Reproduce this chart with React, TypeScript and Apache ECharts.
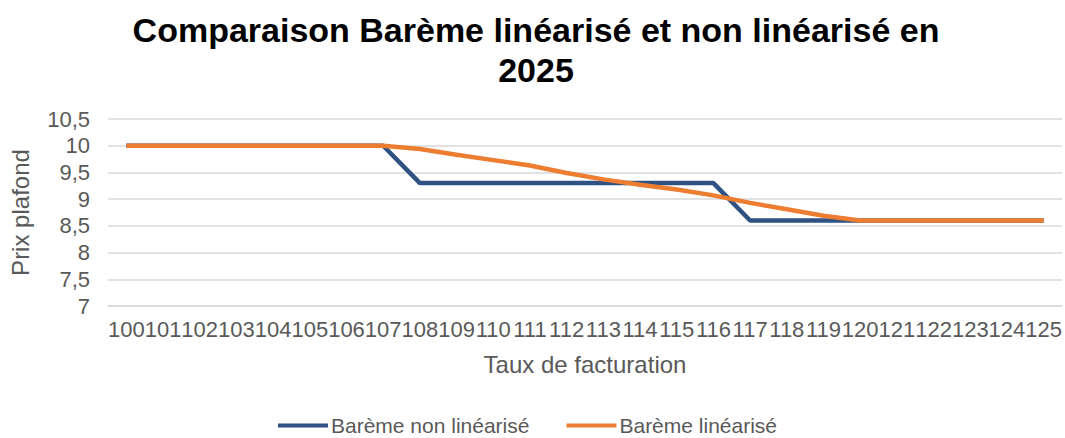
import React, { useEffect, useRef } from "react";
import * as echarts from "echarts";

const categories = [
  "100", "101", "102", "103", "104", "105", "106", "107", "108", "109", "110", "111", "112",
  "113", "114", "115", "116", "117", "118", "119", "120", "121", "122", "123", "124", "125",
];
const nonLinearise = [
  10, 10, 10, 10, 10, 10, 10, 10, 9.3, 9.3, 9.3, 9.3, 9.3,
  9.3, 9.3, 9.3, 9.3, 8.6, 8.6, 8.6, 8.6, 8.6, 8.6, 8.6, 8.6, 8.6,
];
const linearise = [
  10, 10, 10, 10, 10, 10, 10, 10, 9.94, 9.83, 9.73, 9.63, 9.49,
  9.37, 9.27, 9.18, 9.07, 8.93, 8.81, 8.69, 8.6, 8.6, 8.6, 8.6, 8.6, 8.6,
];
const seriesNames = ["Barème non linéarisé", "Barème linéarisé"];
const titleText = "Comparaison Barème linéarisé et non linéarisé en\n2025";
const xAxisName = "Taux de facturation";
const yAxisName = "Prix plafond";

const FONT = "'Liberation Sans', Arial, sans-serif";
const GRAY = "#595959";

export default function App() {
  const ref = useRef<HTMLDivElement>(null);
  useEffect(() => {
    document.body.style.margin = "0";
    if (!ref.current) return;
    const chart = echarts.init(ref.current, undefined, { renderer: "svg" });
    chart.setOption({
      animation: false,
      backgroundColor: "#ffffff",
      textStyle: { fontFamily: FONT },
      graphic: [
        {
          type: "text",
          x: 536,
          y: 10,
          style: {
            text: titleText,
            fontFamily: FONT,
            fontSize: 34,
            fontWeight: "bold",
            fill: "#000000",
            lineHeight: 40,
            textAlign: "center",
            textVerticalAlign: "top",
          },
        },
      ],
      legend: {
        bottom: 2,
        left: 278,
        padding: 0,
        itemGap: 37,
        itemWidth: 50,
        itemHeight: 4,
        icon: "rect",
        textStyle: { fontFamily: FONT, fontSize: 21, color: GRAY, padding: [0, 0, 0, -2] },
        data: seriesNames,
      },
      grid: { left: 104, right: 3, top: 119, bottom: 132 },
      xAxis: {
        type: "category",
        data: categories,
        boundaryGap: true,
        name: xAxisName,
        nameLocation: "middle",
        nameGap: 46,
        nameTextStyle: { fontFamily: FONT, fontSize: 24, color: GRAY },
        axisLine: { show: true, lineStyle: { color: "#D9D9D9", width: 1.5 } },
        axisTick: { show: false },
        axisLabel: { interval: 0, margin: 12, fontFamily: FONT, fontSize: 22, color: GRAY },
      },
      yAxis: {
        type: "value",
        min: 7,
        max: 10.5,
        interval: 0.5,
        name: yAxisName,
        nameLocation: "middle",
        nameGap: 76,
        nameTextStyle: { fontFamily: FONT, fontSize: 24, color: GRAY },
        axisLine: { show: false },
        axisTick: { show: false },
        splitLine: { lineStyle: { color: "#D9D9D9", width: 1.5 } },
        axisLabel: {
          margin: 18,
          fontFamily: FONT,
          fontSize: 22,
          color: GRAY,
          formatter: (v: number) => String(v).replace(".", ","),
        },
      },
      series: [
        {
          name: seriesNames[0],
          type: "line",
          data: nonLinearise,
          symbol: "none",
          lineStyle: { color: "#2F5283", width: 4.5 },
          itemStyle: { color: "#2F5283" },
          z: 2,
        },
        {
          name: seriesNames[1],
          type: "line",
          data: linearise,
          symbol: "none",
          lineStyle: { color: "#ED7D31", width: 4.5 },
          itemStyle: { color: "#ED7D31" },
          z: 3,
        },
      ],
    });
    return () => chart.dispose();
  }, []);
  return <div ref={ref} style={{ width: 1065, height: 438 }} />;
}
